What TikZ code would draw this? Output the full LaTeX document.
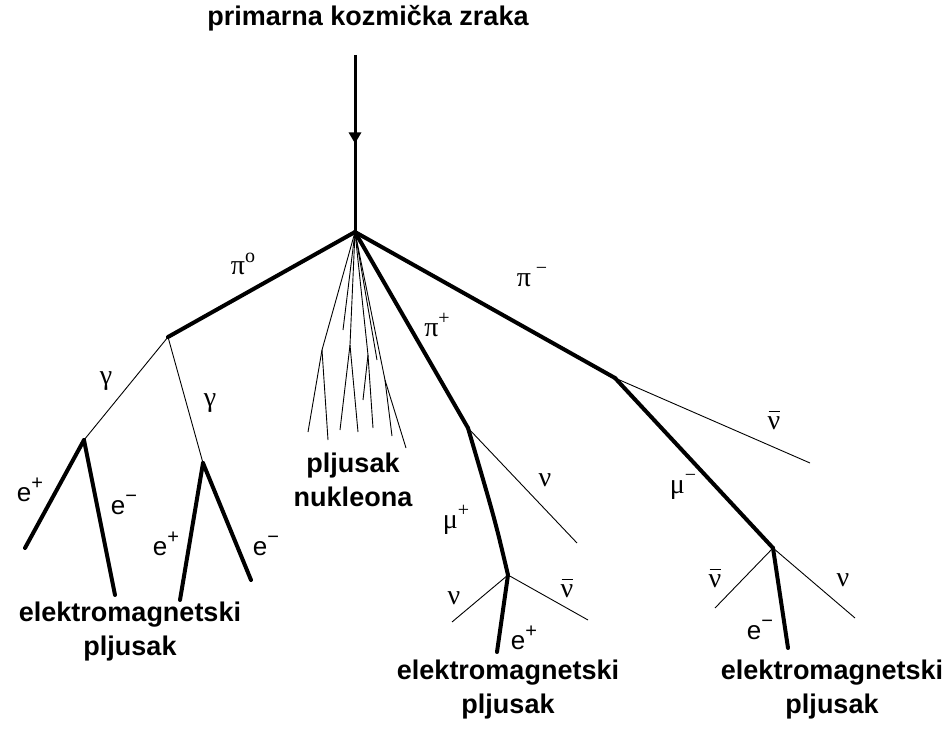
\documentclass[tikz,border=0pt]{standalone}
\usepackage{fontspec}
\setmainfont{Liberation Sans}
\newfontfamily\grk{Liberation Serif}
\usetikzlibrary{decorations.markings,arrows.meta}
\newcommand{\supx}[1]{\raisebox{0.45em}{\fontsize{20}{20}\selectfont #1}}
\newcommand{\nubar}{\makebox[0pt][l]{\hspace{0.03em}\raisebox{0.62em}{\rule{0.42em}{1.2pt}}}{\grk ν}}
\begin{document}
\begin{tikzpicture}[x=1pt,y=-1pt,
  heavy/.style={line width=4pt,line cap=round,line join=round},
  light/.style={line width=0.9pt},
  prim/.style={line width=3pt},
  lbl/.style={font=\fontsize{27}{34}\selectfont\bfseries,align=center,inner sep=0pt},
  gk/.style={font=\grk\fontsize{28}{30}\selectfont,inner sep=0pt},
  ep/.style={font=\fontsize{26}{28}\selectfont,inner sep=0pt}]
\useasboundingbox (0,0) rectangle (950,738);

\node[lbl] (title) at (368,18) {primarna kozmička zraka};

\coordinate (top) at (355,55);
\coordinate (V0) at (355,232);
\coordinate (P0) at (168,337);
\coordinate (Pp) at (468,428);
\coordinate (Pm) at (615,378);
\coordinate (G1) at (84,440);
\coordinate (G2) at (203,463);
\coordinate (M1) at (508,575);
\coordinate (M2) at (773,548);

% primary
\draw[prim,postaction={decorate},decoration={markings,mark=at position 0.5 with {\arrow{Triangle[width=12pt,length=11pt]}}}] (top) -- (V0);

% pions
\draw[heavy] (V0) -- (P0);
\draw[heavy] (V0) -- (Pp);
\draw[heavy] (V0) -- (Pm);

% nucleon shower
\coordinate (n1) at (322,350);
\coordinate (n2) at (350,345);
\coordinate (n3) at (368,355);
\coordinate (n4) at (385,380);
\draw[light] (V0) -- (n1) -- (308,432);
\draw[light] (n1) -- (328,440);
\draw[light] (V0) -- (n2) -- (340,430);
\draw[light] (n2) -- (358,432);
\draw[light] (V0) -- (n3) -- (363,400);
\draw[light] (n3) -- (373,428);
\draw[light] (V0) -- (n4) -- (392,436);
\draw[light] (n4) -- (406,448);
\draw[light] (V0) -- (343,330);
\draw[light] (V0) -- (377,360);

% pi0 branch
\draw[light] (P0) -- (G1);
\draw[light] (P0) -- (G2);
\coordinate (g1a) at (25,548);
\coordinate (g1b) at (115,595);
\coordinate (g2a) at (180,600);
\coordinate (g2b) at (251,580);
\draw[heavy] (G1) -- (g1a);
\draw[heavy] (G1) -- (g1b);
\draw[heavy] (G2) -- (g2a);
\draw[heavy] (G2) -- (g2b);

% pi+ branch
\coordinate (nu1) at (577,543);
\draw[light] (Pp) -- (nu1);
\draw[heavy] (Pp) .. controls (495,520) .. (M1);
\coordinate (nu2) at (452,622);
\coordinate (nb2) at (588,620);
\coordinate (ep2) at (497,652);
\draw[light] (M1) -- (nu2);
\draw[light] (M1) -- (nb2);
\draw[heavy] (M1) -- (ep2);

% pi- branch
\coordinate (nb1) at (810,463);
\draw[light] (Pm) -- (nb1);
\draw[heavy] (Pm) -- (M2);
\coordinate (nb3) at (715,608);
\coordinate (nu3) at (855,618);
\coordinate (em3) at (788,648);
\draw[light] (M2) -- (nb3);
\draw[light] (M2) -- (nu3);
\draw[heavy] (M2) -- (em3);

% labels
\node[gk] (lpi0) at (243,264) {π\supx{o}};
\node[gk] (lpip) at (437,325) {π\supx{+}};
\node[gk] (lpim) at (532,277) {π\,\supx{−}};
\node[gk] (lga1) at (106,381) {γ};
\node[gk] (lga2) at (210,403) {γ};
\node[ep] (le1) at (30,490) {e\supx{+}};
\node[ep] (le2) at (124,505) {e\supx{−}};
\node[ep] (le3) at (166,544) {e\supx{+}};
\node[ep] (le4) at (266,546) {e\supx{−}};
\node[gk] (lnu1) at (545,480) {ν};
\node[gk] (lmup) at (456,520) {μ\supx{+}};
\node[gk] (lnu2) at (454,598) {ν};
\node[gk] (lnb2) at (567,588) {\nubar};
\node[ep] (le5) at (524,638) {e\supx{+}};
\node[gk] (lnb1) at (774,420) {\nubar};
\node[gk] (lmum) at (683,487) {μ\supx{−}};
\node[gk] (lnb3) at (715,578) {\nubar};
\node[gk] (lnu3) at (843,580) {ν};
\node[ep] (le6) at (760,630) {e\supx{−}};

\node[lbl] (nuk) at (353,480) {pljusak\\nukleona};
\node[lbl] (em1) at (130,632) {elektromagnetski\\pljusak};
\node[lbl] (em2) at (508,690) {elektromagnetski\\pljusak};
\node[lbl] (em3l) at (832,690) {elektromagnetski\\pljusak};
\end{tikzpicture}
\end{document}
